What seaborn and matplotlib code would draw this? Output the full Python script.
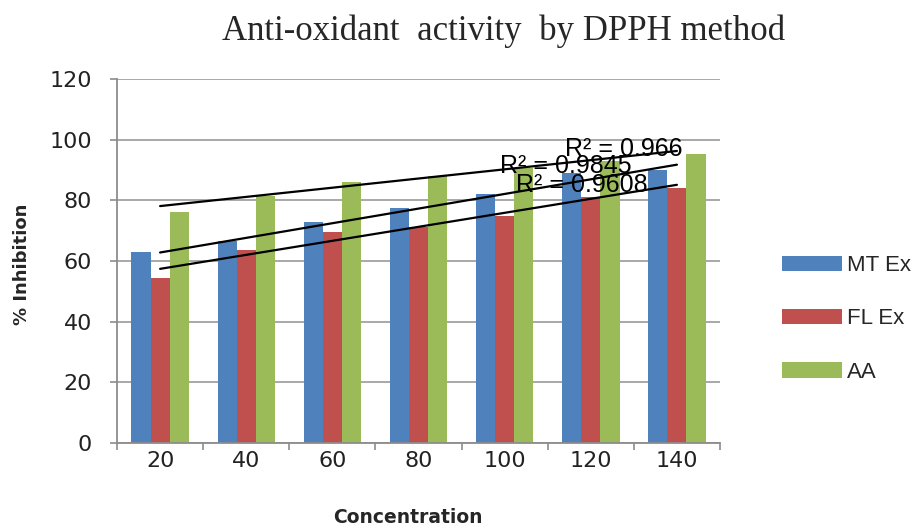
import numpy as np
import pandas as pd
import matplotlib
matplotlib.use("Agg")
import matplotlib.pyplot as plt
import seaborn as sns

concentrations = ["20", "40", "60", "80", "100", "120", "140"]
mt_ex = [63.0, 66.6, 72.8, 77.4, 82.1, 89.0, 90.0]
fl_ex = [54.4, 63.6, 69.5, 71.3, 74.8, 81.2, 84.0]
aa = [76.1, 81.5, 86.0, 88.0, 90.5, 93.0, 95.2]
series_names = ["MT Ex", "FL Ex", "AA"]
r2_labels = ["R\u00b2 = 0.9845", "R\u00b2 = 0.9608", "R\u00b2 = 0.966"]
colors = ["#4F81BD", "#C0504D", "#9BBB59"]

df = pd.DataFrame({
    "Concentration": concentrations * 3,
    "Inhibition": mt_ex + fl_ex + aa,
    "Series": [s for s in series_names for _ in concentrations],
})

sns.set_theme(style="white")
plt.rcParams["font.family"] = ["DejaVu Sans"]

fig = plt.figure(figsize=(9.2, 5.29), dpi=100)
ax = fig.add_axes([0.1272, 0.1626, 0.7826 - 0.1272, 0.8507 - 0.1626])

sns.barplot(data=df, x="Concentration", y="Inhibition", hue="Series",
            order=concentrations, hue_order=series_names, palette=colors,
            width=0.667, saturation=1, ax=ax, legend=True, zorder=2,
            linewidth=0, edgecolor="none")

# linear trendlines over category index
for vals in [mt_ex, fl_ex, aa]:
    sns.regplot(x=np.arange(len(concentrations)), y=np.array(vals), ax=ax,
                scatter=False, ci=None, truncate=True,
                line_kws=dict(color="black", lw=1.6, zorder=4))

# R^2 labels
lab_pos = [(4.71, 91.2), (4.9, 84.9), (5.38, 96.8)]
for (x, y), t in zip(lab_pos, r2_labels):
    ax.text(x, y, t, ha="center", va="center", fontsize=18,
            family=["Liberation Sans"], color="black", zorder=5)

ax.set_ylim(0, 120)
ax.set_xlim(-0.5, 6.5)
ax.set_yticks(range(0, 121, 20))
ax.yaxis.grid(True, color="#9a9a9a", lw=1.2, zorder=0)
ax.xaxis.grid(False)
ax.set_axisbelow(True)
for s in ["top", "right"]:
    ax.spines[s].set_visible(False)
for s in ["left", "bottom"]:
    ax.spines[s].set_color("#8c8c8c")
    ax.spines[s].set_linewidth(1.3)

ax.set_xticks(np.arange(-0.5, 7, 1), minor=False)
ax.set_xticklabels([""] * 8)
ax.set_xticks(np.arange(7), minor=True)
ax.set_xticklabels(concentrations, minor=True)
ax.tick_params(axis="x", which="major", direction="out", length=5,
               color="#8c8c8c", width=1.2, bottom=True)
ax.tick_params(axis="x", which="minor", length=0, labelsize=16, pad=6,
               labelcolor="#222222")
ax.tick_params(axis="y", direction="out", length=5, color="#8c8c8c",
               width=1.2, left=True, labelsize=16, pad=13, labelcolor="#222222")

ax.set_xlabel("Concentration", fontsize=13.5, fontweight="bold")
ax.xaxis.set_label_coords(0.483, -0.206)
ax.xaxis.label.set_verticalalignment("center")
ax.set_ylabel("% Inhibition", fontsize=13, fontweight="bold")
ax.yaxis.set_label_coords(-0.158, 0.49)
ax.yaxis.label.set_verticalalignment("center")

fig.text(0.547, 0.94, "Anti-oxidant  activity  by DPPH method",
         ha="center", va="center", fontsize=25,
         family=["Liberation Serif"])

handles, labels = ax.get_legend_handles_labels()
ax.legend_.remove()
fig.legend(handles, labels, loc="center left", bbox_to_anchor=(0.828, 0.397),
           frameon=False, prop={"family": "Liberation Sans", "size": 16},
           handlelength=2.7, handleheight=0.7, labelspacing=1.45,
           handletextpad=0.25)

fig.savefig("out.png", dpi=100)
